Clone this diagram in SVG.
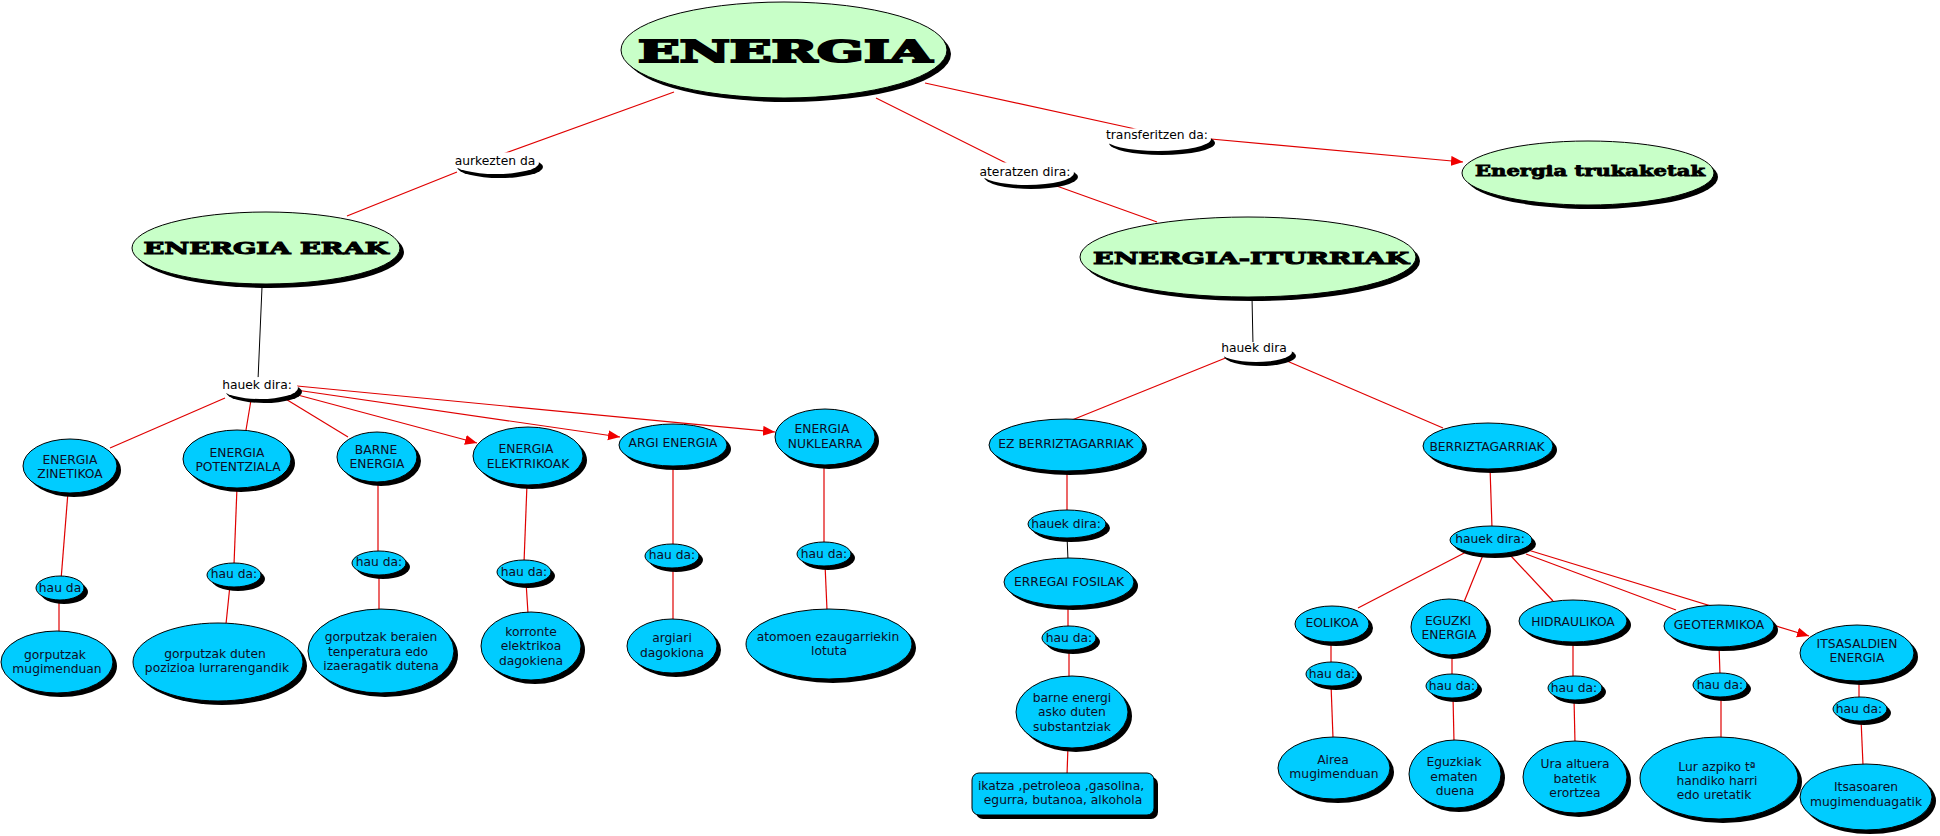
<svg xmlns="http://www.w3.org/2000/svg" width="1940" height="836" viewBox="0 0 1940 836">
<style>
.sh{fill:#000}
.bl{fill:#00CCFF;stroke:#000;stroke-width:1}
.gr{fill:#C8FFC8;stroke:#000;stroke-width:1}
.wh{fill:#fff}
.t{font-family:"DejaVu Sans",Verdana,sans-serif;font-size:12.3px;fill:#0d0d26;text-anchor:middle}
.tw{font-family:"DejaVu Sans",Verdana,sans-serif;font-size:12.3px;fill:#000;text-anchor:middle}
.tg{font-family:"DejaVu Serif",serif;font-weight:bold;fill:#000;stroke:#000;text-anchor:middle}
.r{stroke:#E00000;stroke-width:1.2;fill:none}
.k{stroke:#000;stroke-width:1;fill:none}
</style>
<defs>
<marker id="ar" markerUnits="userSpaceOnUse" markerWidth="13" markerHeight="11" refX="12" refY="5" orient="auto">
<path d="M0,0 L12,5 L0,10 z" fill="#F00000"/>
</marker>
</defs>
<rect width="1940" height="836" fill="#fff"/>
<g id="connectors">
<line class="r" x1="674" y1="92" x2="500" y2="155"/>
<line class="r" x1="457" y1="172" x2="347" y2="216"/>
<line class="r" x1="876" y1="98" x2="1010" y2="165"/>
<line class="r" x1="1040" y1="180" x2="1157" y2="222"/>
<line class="r" x1="925" y1="83" x2="1140" y2="130"/>
<line class="r" x1="1200" y1="138" x2="1463" y2="162" marker-end="url(#ar)"/>
<line class="k" x1="262" y1="287" x2="258" y2="380"/>
<line class="r" x1="225" y1="398" x2="110" y2="448"/>
<line class="r" x1="251" y1="400" x2="246" y2="430"/>
<line class="r" x1="284" y1="398" x2="348" y2="437"/>
<line class="r" x1="294" y1="394" x2="477" y2="443" marker-end="url(#ar)"/>
<line class="r" x1="296" y1="390" x2="620" y2="437" marker-end="url(#ar)"/>
<line class="r" x1="297" y1="386" x2="775" y2="432" marker-end="url(#ar)"/>
<line class="r" x1="68" y1="492" x2="61" y2="580"/>
<line class="r" x1="59" y1="598" x2="59" y2="632"/>
<line class="r" x1="237" y1="487" x2="234" y2="565"/>
<line class="r" x1="230" y1="585" x2="226" y2="624"/>
<line class="r" x1="378" y1="481" x2="378" y2="555"/>
<line class="r" x1="379" y1="573" x2="379" y2="610"/>
<line class="r" x1="527" y1="484" x2="524" y2="563"/>
<line class="r" x1="526" y1="582" x2="528" y2="613"/>
<line class="r" x1="673" y1="465" x2="673" y2="547"/>
<line class="r" x1="673" y1="566" x2="673" y2="620"/>
<line class="r" x1="824" y1="464" x2="824" y2="545"/>
<line class="r" x1="825" y1="564" x2="827" y2="610"/>
<line class="k" x1="1252" y1="297" x2="1253" y2="345"/>
<line class="r" x1="1228" y1="357" x2="1072" y2="420"/>
<line class="r" x1="1280" y1="358" x2="1443" y2="428"/>
<line class="r" x1="1067" y1="470" x2="1067" y2="512"/>
<line class="k" x1="1067" y1="536" x2="1068" y2="560"/>
<line class="r" x1="1068" y1="604" x2="1068" y2="628"/>
<line class="r" x1="1069" y1="648" x2="1069" y2="678"/>
<line class="r" x1="1068" y1="746" x2="1067" y2="775"/>
<line class="r" x1="1490" y1="467" x2="1492" y2="528"/>
<line class="r" x1="1470" y1="550" x2="1358" y2="608"/>
<line class="r" x1="1483" y1="555" x2="1464" y2="602"/>
<line class="r" x1="1510" y1="555" x2="1553" y2="601"/>
<line class="r" x1="1526" y1="554" x2="1676" y2="610"/>
<line class="r" x1="1528" y1="550" x2="1809" y2="636" marker-end="url(#ar)"/>
<line class="r" x1="1331" y1="640" x2="1331" y2="664"/>
<line class="r" x1="1331" y1="684" x2="1333" y2="738"/>
<line class="r" x1="1452" y1="653" x2="1452" y2="676"/>
<line class="r" x1="1453" y1="696" x2="1454" y2="742"/>
<line class="r" x1="1573" y1="640" x2="1573" y2="678"/>
<line class="r" x1="1574" y1="698" x2="1575" y2="743"/>
<line class="r" x1="1719" y1="645" x2="1720" y2="675"/>
<line class="r" x1="1721" y1="695" x2="1721" y2="738"/>
<line class="r" x1="1859" y1="679" x2="1859" y2="699"/>
<line class="r" x1="1861" y1="719" x2="1863" y2="765"/>
</g>
<g id="n-energia"><ellipse class="sh" cx="788" cy="54" rx="163" ry="48"/><ellipse class="gr" cx="784" cy="50" rx="163" ry="48"/><text class="tg" x="785" y="62" font-size="30" stroke-width="2" textLength="294" lengthAdjust="spacingAndGlyphs">ENERGIA</text></g>
<g id="n-erak"><ellipse class="sh" cx="270" cy="252" rx="134" ry="36"/><ellipse class="gr" cx="266" cy="248" rx="134" ry="36"/><text class="tg" x="266" y="254" font-size="16" stroke-width="1" textLength="245" lengthAdjust="spacingAndGlyphs">ENERGIA ERAK</text></g>
<g id="n-iturriak"><ellipse class="sh" cx="1252" cy="261" rx="168" ry="40"/><ellipse class="gr" cx="1248" cy="257" rx="168" ry="40"/><text class="tg" x="1251" y="264" font-size="17" stroke-width="1" textLength="316" lengthAdjust="spacingAndGlyphs">ENERGIA-ITURRIAK</text></g>
<g id="n-trukaketak"><ellipse class="sh" cx="1592" cy="177" rx="126" ry="32"/><ellipse class="gr" cx="1588" cy="173" rx="126" ry="32"/><text class="tg" x="1590" y="176" font-size="15" stroke-width="0.8" textLength="230" lengthAdjust="spacingAndGlyphs">Energia trukaketak</text></g>
<g id="l-aurkezten"><ellipse class="sh" cx="500" cy="167" rx="43" ry="11"/><ellipse class="wh" cx="496" cy="163" rx="43" ry="11"/><text class="tw" x="495" y="165">aurkezten da</text></g>
<g id="l-ateratzen"><ellipse class="sh" cx="1031" cy="177" rx="47" ry="12"/><ellipse class="wh" cx="1027" cy="173" rx="47" ry="12"/><text class="tw" x="1025" y="176">ateratzen dira:</text></g>
<g id="l-transferitzen"><ellipse class="sh" cx="1162" cy="143" rx="53" ry="12"/><ellipse class="wh" cx="1158" cy="139" rx="53" ry="12"/><text class="tw" x="1157" y="139">transferitzen da:</text></g>
<g id="l-hauek1"><ellipse class="sh" cx="264" cy="392" rx="38" ry="11"/><ellipse class="wh" cx="260" cy="388" rx="38" ry="11"/><text class="tw" x="257" y="389">hauek dira:</text></g>
<g id="l-hauek2"><ellipse class="sh" cx="1260" cy="356" rx="36" ry="10"/><ellipse class="wh" cx="1256" cy="352" rx="36" ry="10"/><text class="tw" x="1254" y="352">hauek dira</text></g>
<g id="b-zinetikoa"><ellipse class="sh" cx="74" cy="470" rx="47" ry="27"/><ellipse class="bl" cx="70" cy="466" rx="47" ry="27"/><text class="t" x="70" y="464">ENERGIA</text><text class="t" x="70" y="478">ZINETIKOA</text></g>
<g id="b-potentziala"><ellipse class="sh" cx="241" cy="463" rx="54" ry="29"/><ellipse class="bl" cx="237" cy="459" rx="54" ry="29"/><text class="t" x="237" y="457">ENERGIA</text><text class="t" x="238" y="471">POTENTZIALA</text></g>
<g id="b-barne"><ellipse class="sh" cx="381" cy="461" rx="40" ry="25"/><ellipse class="bl" cx="377" cy="457" rx="40" ry="25"/><text class="t" x="376" y="454">BARNE</text><text class="t" x="377" y="468">ENERGIA</text></g>
<g id="b-elektrikoak"><ellipse class="sh" cx="532" cy="460" rx="55" ry="29"/><ellipse class="bl" cx="528" cy="456" rx="55" ry="29"/><text class="t" x="526" y="453">ENERGIA</text><text class="t" x="528" y="468">ELEKTRIKOAK</text></g>
<g id="b-argi"><ellipse class="sh" cx="677" cy="449" rx="54" ry="21"/><ellipse class="bl" cx="673" cy="445" rx="54" ry="21"/><text class="t" x="673" y="447">ARGI ENERGIA</text></g>
<g id="b-nuklearra"><ellipse class="sh" cx="829" cy="441" rx="50" ry="28"/><ellipse class="bl" cx="825" cy="437" rx="50" ry="28"/><text class="t" x="822" y="433">ENERGIA</text><text class="t" x="825" y="448">NUKLEARRA</text></g>
<g id="h-zin"><ellipse class="sh" cx="64" cy="592" rx="24" ry="12"/><ellipse class="bl" cx="60" cy="588" rx="24" ry="12" stroke="none"/><text class="t" x="60" y="592">hau da</text></g>
<g id="h-pot"><ellipse class="sh" cx="238" cy="579" rx="27" ry="12"/><ellipse class="bl" cx="234" cy="575" rx="27" ry="12" stroke="none"/><text class="t" x="234" y="578">hau da:</text></g>
<g id="h-barne"><ellipse class="sh" cx="383" cy="567" rx="27" ry="12"/><ellipse class="bl" cx="379" cy="563" rx="27" ry="12" stroke="none"/><text class="t" x="379" y="566">hau da:</text></g>
<g id="h-elek"><ellipse class="sh" cx="528" cy="576" rx="27" ry="12"/><ellipse class="bl" cx="524" cy="572" rx="27" ry="12" stroke="none"/><text class="t" x="524" y="576">hau da:</text></g>
<g id="h-argi"><ellipse class="sh" cx="676" cy="560" rx="27" ry="12"/><ellipse class="bl" cx="672" cy="556" rx="27" ry="12" stroke="none"/><text class="t" x="672" y="559">hau da:</text></g>
<g id="h-nukl"><ellipse class="sh" cx="828" cy="558" rx="27" ry="12"/><ellipse class="bl" cx="824" cy="554" rx="27" ry="12" stroke="none"/><text class="t" x="824" y="558">hau da:</text></g>
<g id="d-zin"><ellipse class="sh" cx="61" cy="666" rx="56" ry="31"/><ellipse class="bl" cx="57" cy="662" rx="56" ry="31"/><text class="t" x="55" y="659">gorputzak</text><text class="t" x="57" y="673">mugimenduan</text></g>
<g id="d-pot"><ellipse class="sh" cx="222" cy="666" rx="85" ry="39"/><ellipse class="bl" cx="218" cy="662" rx="85" ry="39"/><text class="t" x="215" y="658">gorputzak duten</text><text class="t" x="217" y="672">pozizioa lurrarengandik</text></g>
<g id="d-barne"><ellipse class="sh" cx="385" cy="655" rx="73" ry="42"/><ellipse class="bl" cx="381" cy="651" rx="73" ry="42"/><text class="t" x="381" y="641">gorputzak beraien</text><text class="t" x="378" y="656">tenperatura edo</text><text class="t" x="381" y="670">izaeragatik dutena</text></g>
<g id="d-elek"><ellipse class="sh" cx="535" cy="650" rx="50" ry="34"/><ellipse class="bl" cx="531" cy="646" rx="50" ry="34"/><text class="t" x="531" y="636">korronte</text><text class="t" x="531" y="650">elektrikoa</text><text class="t" x="531" y="665">dagokiena</text></g>
<g id="d-argi"><ellipse class="sh" cx="676" cy="650" rx="45" ry="27"/><ellipse class="bl" cx="672" cy="646" rx="45" ry="27"/><text class="t" x="672" y="642">argiari</text><text class="t" x="672" y="657">dagokiona</text></g>
<g id="d-nukl"><ellipse class="sh" cx="833" cy="648" rx="83" ry="35"/><ellipse class="bl" cx="829" cy="644" rx="83" ry="35"/><text class="t" x="828" y="641">atomoen ezaugarriekin</text><text class="t" x="829" y="655">lotuta</text></g>
<g id="b-ez"><ellipse class="sh" cx="1070" cy="449" rx="77" ry="26"/><ellipse class="bl" cx="1066" cy="445" rx="77" ry="26"/><text class="t" x="1066" y="448">EZ BERRIZTAGARRIAK</text></g>
<g id="h-ez"><ellipse class="sh" cx="1071" cy="528" rx="39" ry="14"/><ellipse class="bl" cx="1067" cy="524" rx="39" ry="14" stroke="none"/><text class="t" x="1066" y="528">hauek dira:</text></g>
<g id="b-erregai"><ellipse class="sh" cx="1073" cy="586" rx="65" ry="24"/><ellipse class="bl" cx="1069" cy="582" rx="65" ry="24"/><text class="t" x="1069" y="586">ERREGAI FOSILAK</text></g>
<g id="h-erregai"><ellipse class="sh" cx="1073" cy="642" rx="27" ry="12"/><ellipse class="bl" cx="1069" cy="638" rx="27" ry="12" stroke="none"/><text class="t" x="1069" y="642">hau da:</text></g>
<g id="d-erregai"><ellipse class="sh" cx="1076" cy="716" rx="56" ry="36"/><ellipse class="bl" cx="1072" cy="712" rx="56" ry="36"/><text class="t" x="1072" y="702">barne energi</text><text class="t" x="1072" y="716">asko duten</text><text class="t" x="1072" y="731">substantziak</text></g>
<g id="d-ikatza"><rect class="sh" x="976" y="777" width="182" height="42" rx="7"/><rect class="bl" x="972" y="773" width="182" height="42" rx="7"/><text class="t" x="1061" y="790">ikatza ,petroleoa ,gasolina,</text><text class="t" x="1063" y="804">egurra, butanoa, alkohola</text></g>
<g id="b-berriz"><ellipse class="sh" cx="1492" cy="450" rx="65" ry="23"/><ellipse class="bl" cx="1488" cy="446" rx="65" ry="23"/><text class="t" x="1487" y="451">BERRIZTAGARRIAK</text></g>
<g id="h-berriz"><ellipse class="sh" cx="1495" cy="544" rx="41" ry="14"/><ellipse class="bl" cx="1491" cy="540" rx="41" ry="14" stroke="none"/><text class="t" x="1490" y="543">hauek dira:</text></g>
<g id="b-eolikoa"><ellipse class="sh" cx="1336" cy="628" rx="37" ry="18"/><ellipse class="bl" cx="1332" cy="624" rx="37" ry="18"/><text class="t" x="1332" y="627">EOLIKOA</text></g>
<g id="b-eguzki"><ellipse class="sh" cx="1453" cy="631" rx="38" ry="28"/><ellipse class="bl" cx="1449" cy="627" rx="38" ry="28"/><text class="t" x="1448" y="625">EGUZKI</text><text class="t" x="1449" y="639">ENERGIA</text></g>
<g id="b-hidraulikoa"><ellipse class="sh" cx="1577" cy="625" rx="54" ry="21"/><ellipse class="bl" cx="1573" cy="621" rx="54" ry="21"/><text class="t" x="1573" y="626">HIDRAULIKOA</text></g>
<g id="b-geotermikoa"><ellipse class="sh" cx="1723" cy="630" rx="55" ry="21"/><ellipse class="bl" cx="1719" cy="626" rx="55" ry="21"/><text class="t" x="1719" y="629">GEOTERMIKOA</text></g>
<g id="b-itsasaldien"><ellipse class="sh" cx="1861" cy="657" rx="57" ry="28"/><ellipse class="bl" cx="1857" cy="653" rx="57" ry="28"/><text class="t" x="1857" y="648">ITSASALDIEN</text><text class="t" x="1857" y="662">ENERGIA</text></g>
<g id="h-eol"><ellipse class="sh" cx="1336" cy="678" rx="26" ry="12"/><ellipse class="bl" cx="1332" cy="674" rx="26" ry="12" stroke="none"/><text class="t" x="1332" y="678">hau da:</text></g>
<g id="h-egu"><ellipse class="sh" cx="1456" cy="690" rx="26" ry="12"/><ellipse class="bl" cx="1452" cy="686" rx="26" ry="12" stroke="none"/><text class="t" x="1452" y="690">hau da:</text></g>
<g id="h-hidr"><ellipse class="sh" cx="1579" cy="692" rx="27" ry="12"/><ellipse class="bl" cx="1575" cy="688" rx="27" ry="12" stroke="none"/><text class="t" x="1574" y="692">hau da:</text></g>
<g id="h-geo"><ellipse class="sh" cx="1724" cy="689" rx="27" ry="12"/><ellipse class="bl" cx="1720" cy="685" rx="27" ry="12" stroke="none"/><text class="t" x="1720" y="689">hau da:</text></g>
<g id="h-its"><ellipse class="sh" cx="1864" cy="713" rx="27" ry="12"/><ellipse class="bl" cx="1860" cy="709" rx="27" ry="12" stroke="none"/><text class="t" x="1859" y="713">hau da:</text></g>
<g id="d-airea"><ellipse class="sh" cx="1338" cy="772" rx="56" ry="31"/><ellipse class="bl" cx="1334" cy="768" rx="56" ry="31"/><text class="t" x="1333" y="764">Airea</text><text class="t" x="1334" y="778">mugimenduan</text></g>
<g id="d-eguzkiak"><ellipse class="sh" cx="1459" cy="778" rx="46" ry="34"/><ellipse class="bl" cx="1455" cy="774" rx="46" ry="34"/><text class="t" x="1454" y="766">Eguzkiak</text><text class="t" x="1454" y="781">ematen</text><text class="t" x="1455" y="795">duena</text></g>
<g id="d-ura"><ellipse class="sh" cx="1579" cy="781" rx="52" ry="36"/><ellipse class="bl" cx="1575" cy="777" rx="52" ry="36"/><text class="t" x="1575" y="768">Ura altuera</text><text class="t" x="1575" y="783">batetik</text><text class="t" x="1575" y="797">erortzea</text></g>
<g id="d-lur"><ellipse class="sh" cx="1723" cy="782" rx="79" ry="41"/><ellipse class="bl" cx="1719" cy="778" rx="79" ry="41"/><text class="t" x="1717" y="771">Lur azpiko tª</text><text class="t" x="1717" y="785">handiko harri</text><text class="t" x="1714" y="799">edo uretatik</text></g>
<g id="d-itsasoaren"><ellipse class="sh" cx="1870" cy="801" rx="66" ry="33"/><ellipse class="bl" cx="1866" cy="797" rx="66" ry="33"/><text class="t" x="1866" y="791">Itsasoaren</text><text class="t" x="1866" y="806">mugimenduagatik</text></g>
</svg>
